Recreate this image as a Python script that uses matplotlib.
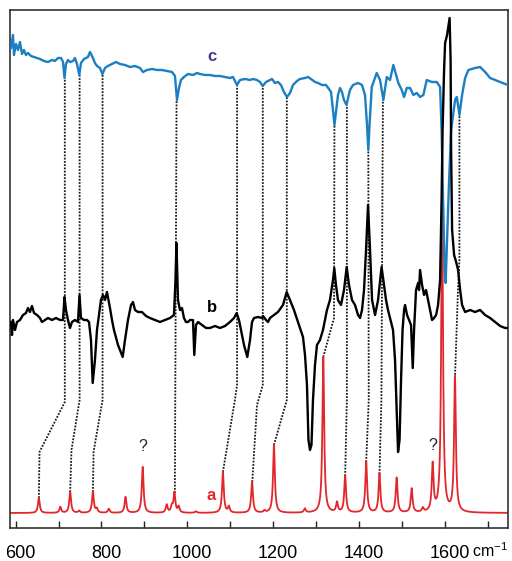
import numpy as np
import matplotlib
matplotlib.use('Agg')
import matplotlib.pyplot as plt
from matplotlib.transforms import ScaledTranslation

plt.rcParams['font.family'] = ['Liberation Sans', 'DejaVu Sans']
plt.rcParams['mathtext.fontset'] = 'custom'
plt.rcParams['mathtext.rm'] = 'Liberation Sans'

# (a) computed spectrum: band positions (cm-1) and intensities, baseline offset
calc_pos = [654, 704, 727, 748, 780, 789, 817, 856, 896, 952, 964, 970, 980,
            1020, 1083, 1097, 1151, 1180, 1202, 1274, 1317, 1349, 1368, 1417,
            1448, 1488, 1523, 1549, 1572, 1594, 1624]
calc_int = [15, 6, 21, 2, 21, 4, 4, 16, 46, 8, 6, 20, 6,
            1.5, 41, 6, 31, 2, 68, 4, 156, 10, 37, 51,
            39, 35, 24, 4, 47, 311, 135]
calc_base = 15
calc_hwhm = 2.5

# (b) measured spectrum, offset
b_wn = [589, 591.4, 593.7, 598.4, 603, 610, 617, 624, 628.7, 633.3, 638, 642.7,
        649.7, 656.6, 661.3, 668.3, 675.3, 684.6, 694, 703.3, 710.3, 713.8,
        717.2, 721.9, 726.6, 731.2, 738.2, 745.2, 748.8, 752.2, 759.2, 766.2,
        770.9, 775.5, 779.5, 784.8, 789.5, 794.2, 798.8, 803.5, 808.2, 812.8,
        819.8, 824.5, 829.1, 838.5, 849.4, 854.8, 861.8, 868.8, 873.4, 878.1,
        885.1, 894.4, 903.7, 913, 924.7, 936.4, 948, 959.7, 969, 972.5, 974.8,
        977.1, 978.3, 983, 987.6, 992.3, 997, 1001.6, 1006.3, 1013.3, 1016.3,
        1020.3, 1025, 1034.3, 1043.6, 1052.9, 1064.6, 1076.2, 1087.9, 1099.5,
        1108.9, 1115.2, 1120.5, 1125.2, 1132.2, 1139.9, 1146.2, 1150.9, 1155.5,
        1164.9, 1174.2, 1176.5, 1183.5, 1188.2, 1192.8, 1202.1, 1211.4, 1223.1,
        1231.7, 1239.4, 1248.7, 1258.1, 1262.7, 1269.7, 1274.4, 1279, 1282.5,
        1286, 1289.5, 1293, 1297.7, 1302.3, 1309.3, 1316.3, 1325.6, 1332.6,
        1339.6, 1342.7, 1346.6, 1351.3, 1358.3, 1365.3, 1371.6, 1377, 1384,
        1391, 1398, 1402.7, 1407.3, 1412, 1416.7, 1421.3, 1426, 1430.7, 1437.7,
        1444.7, 1452.9, 1458.7, 1463.3, 1467.9, 1472.6, 1479.6, 1484.3, 1488.9,
        1491.3, 1494.8, 1498.3, 1501.8, 1505.3, 1507.6, 1512.3, 1516.9, 1521.6,
        1525.6, 1528.6, 1533.3, 1538, 1540.3, 1542.6, 1547.3, 1552, 1556.6,
        1561.3, 1566, 1570.6, 1575.3, 1580, 1584.6, 1589.3, 1592.8, 1595.1,
        1598.6, 1601, 1605.6, 1611.5, 1613.8, 1615, 1617.3, 1622, 1626.7,
        1631.3, 1636, 1640.6, 1647.6, 1659.3, 1670.9, 1682.6, 1694.3, 1705.9,
        1717.6, 1729.2, 1740.9, 1747.9]
b_int = [206, 193, 208, 198, 206, 208, 213, 215, 220, 216, 222, 215,
         213, 210, 206, 208, 210, 208, 210, 208, 208, 231,
         218, 208, 200, 206, 208, 206, 233, 210, 208, 208,
         206, 188, 145, 168, 198, 213, 228, 233, 228, 236,
         220, 208, 198, 183, 171, 188, 208, 223, 226, 218,
         216, 216, 212, 210, 208, 206, 208, 210, 213, 248, 285,
         248, 228, 218, 220, 210, 206, 206, 208, 208, 173,
         203, 206, 203, 200, 200, 202, 200, 202, 206,
         210, 215, 208, 198, 183, 171, 188, 206, 210,
         211, 210, 212, 208, 206, 210, 213, 216, 223,
         236, 228, 218, 206, 200, 191, 173, 143, 88,
         78, 83, 128, 163, 183, 188, 198, 218, 228,
         248, 260, 243, 228, 223, 238, 261, 243, 228,
         223, 213, 210, 218, 238, 278, 323, 278, 228, 213,
         228, 261, 243, 228, 218, 210, 198, 168, 108,
         76, 88, 148, 198, 218, 223, 213, 208, 203,
         160, 198, 238, 245, 238, 258, 243, 233, 238,
         228, 218, 208, 210, 213, 223, 248, 328, 398,
         458, 485, 493, 510, 468, 378, 298, 273, 266,
         258, 238, 223, 216, 218, 216, 218, 213, 210,
         206, 202, 200, 200]

# (c) measured spectrum, offset
c_wn = [589, 593.7, 596, 600.7, 605.4, 610, 614.7, 619.3, 624, 628.7, 635.7,
        642.7, 649.7, 656.6, 666, 675.3, 684.6, 691.6, 698.6, 705.6, 710.3,
        713.8, 717.2, 721.9, 726.6, 733.6, 738.2, 742.9, 748.3, 752.2, 759.2,
        768.5, 773.2, 777.9, 784.8, 789.5, 796.5, 802.3, 808.2, 815.1, 824.5,
        833.8, 843.1, 854.8, 866.4, 878.1, 889.7, 896.7, 906.1, 917.7, 929.4,
        941, 952.7, 964.3, 971.3, 976, 980.6, 985.3, 992.3, 1001.6, 1013.3,
        1022.6, 1029.6, 1041.3, 1052.9, 1064.6, 1076.2, 1087.9, 1099.5, 1106.5,
        1111.2, 1115.9, 1122.9, 1134.5, 1146.2, 1153.2, 1162.5, 1169.5, 1175.8,
        1183.5, 1192.8, 1197.5, 1204.4, 1211.4, 1218.4, 1225.4, 1232.4, 1239.4,
        1246.4, 1255.7, 1262.7, 1274.4, 1281.4, 1288.4, 1297.7, 1304.7, 1314,
        1323.3, 1330.3, 1335, 1339.6, 1343.1, 1346.6, 1351.3, 1356, 1360.6,
        1365.3, 1371.1, 1379.3, 1386.3, 1398, 1407.3, 1414.3, 1419, 1422,
        1424.8, 1430, 1441.6, 1449.4, 1457.1, 1465, 1472.6, 1480.3, 1492,
        1499.9, 1505.3, 1511.6, 1519.3, 1527, 1535, 1542.6, 1550.3, 1558.2,
        1569.8, 1581.6, 1589.3, 1592.8, 1596.3, 1599.8, 1602.2, 1605.6, 1610.3,
        1615, 1619.6, 1624.3, 1628.3, 1634.4, 1640.6, 1647.6, 1655.3, 1670.9,
        1682.6, 1694.3, 1705.9, 1717.6, 1729.2, 1740.9, 1747.9]
c_int = [480, 493, 473, 484, 478, 486, 474, 478, 473, 475, 472,
         471, 470, 469, 467, 466, 468, 467, 470, 470, 466,
         450, 464, 468, 466, 467, 470, 464, 453, 465, 469,
         471, 476, 472, 465, 462, 460, 454, 460, 462, 464,
         466, 464, 463, 461, 462, 460, 456, 458, 459, 458,
         458, 457, 456, 452, 428, 440, 448, 451, 454, 453,
         455, 454, 453, 453, 452, 452, 451, 450, 451,
         447, 443, 448, 449, 448, 449, 448, 446, 442,
         446, 448, 449, 445, 446, 443, 436, 431, 435,
         443, 447, 449, 450, 451, 449, 446, 445, 443,
         443, 439, 436, 418, 403, 416, 433, 440, 436,
         428, 423, 438, 443, 445, 443, 433, 403, 378,
         403, 441, 455, 448, 428, 451, 448, 463, 445,
         438, 431, 440, 440, 433, 435, 431, 433, 448,
         446, 446, 441, 398, 328, 258, 245, 288, 348,
         398, 413, 428, 431, 413, 433, 450, 458, 460,
         461, 456, 450, 448, 446, 444, 443]

# dotted assignment lines linking bands of a, b and c
links = [
    ([654, 655.5, 714.5, 714.5], [30, 76, 126, 450]),
    ([727, 730, 749, 749], [36, 78, 128, 453]),
    ([780, 781.5, 802.5, 802.5], [36, 76, 128, 454]),
    ([971, 975], [35, 428]),
    ([1083, 1111, 1116, 1116], [56, 128, 143, 443]),
    ([1151.5, 1162.5, 1176, 1176], [46, 123, 143, 442]),
    ([1202, 1232, 1232], [83, 128, 431]),
    ([1317, 1342, 1343], [171, 210, 403]),
    ([1368, 1372, 1372], [52, 128, 423]),
    ([1417, 1423, 1422], [66, 128, 378]),
    ([1448, 1452.5, 1456], [54, 128, 428]),
    ([1624, 1631, 1634.4, 1634.4], [150, 238, 268, 413]),
]

# unassigned computed bands
unknown_bands = [896, 1572]

tick_pos = list(range(600, 1701, 100))
tick_txt = ['600', '', '800', '', '1000', '', '1200', '', '1400', '', '1600',
            '']

red = '#e3262c'
blue = '#1b7fc2'

fig = plt.figure(figsize=(5.12, 5.61), dpi=100)
ax = fig.add_axes([0.0195, 0.0588, 0.9736, 0.9234])

# broadened stick spectrum
grid = np.linspace(586, 1750, 6000)
calc = np.full_like(grid, calc_base, dtype=float)
for p, h in zip(calc_pos, calc_int):
    calc += h * calc_hwhm ** 2 / ((grid - p) ** 2 + calc_hwhm ** 2)

for xs, ys in links:
    ax.plot(xs, ys, color='#1a1a1a', lw=1.3, ls=(0, (1, 0.8)), zorder=1)

ax.plot(grid, calc, color=red, lw=1.3, zorder=2)
ax.plot(c_wn, c_int, color=blue, lw=1.7, zorder=3)
ax.plot(b_wn, b_int, color='black', lw=1.7, zorder=4)

ax.text(1057, 471, 'c', color='#3c3c8c', fontsize=12, fontweight='bold',
        ha='center', va='center')
ax.text(1057, 221, 'b', color='black', fontsize=12, fontweight='bold',
        ha='center', va='center')
ax.text(1055, 33, 'a', color=red, fontsize=12, fontweight='bold',
        ha='center', va='center')
for p in unknown_bands:
    h = calc_int[calc_pos.index(p)]
    ax.text(p, calc_base + h + 21, '?', color='#222222', fontsize=11.5,
            ha='center', va='center')

ax.set_xlim(586.7, 1748.7)
ax.set_ylim(0, 518)
ax.set_yticks([])
ax.set_xticks(tick_pos)
ax.set_xticklabels(tick_txt, fontsize=13)
ax.tick_params(axis='x', direction='in', length=5, width=1, pad=12,
               color='#222222')
shift = ScaledTranslation(5 / 100, 0, fig.dpi_scale_trans)
for lab in ax.get_xticklabels():
    lab.set_transform(lab.get_transform() + shift)
for sp in ax.spines.values():
    sp.set_color('#333333')
    sp.set_linewidth(1.2)

# unit after the last number, on the same baseline
fig.text(472 / 512, 1 - 557 / 561, 'cm$^{-1}$', fontsize=11.5,
         ha='left', va='baseline')

fig.savefig('out.png', dpi=100)
